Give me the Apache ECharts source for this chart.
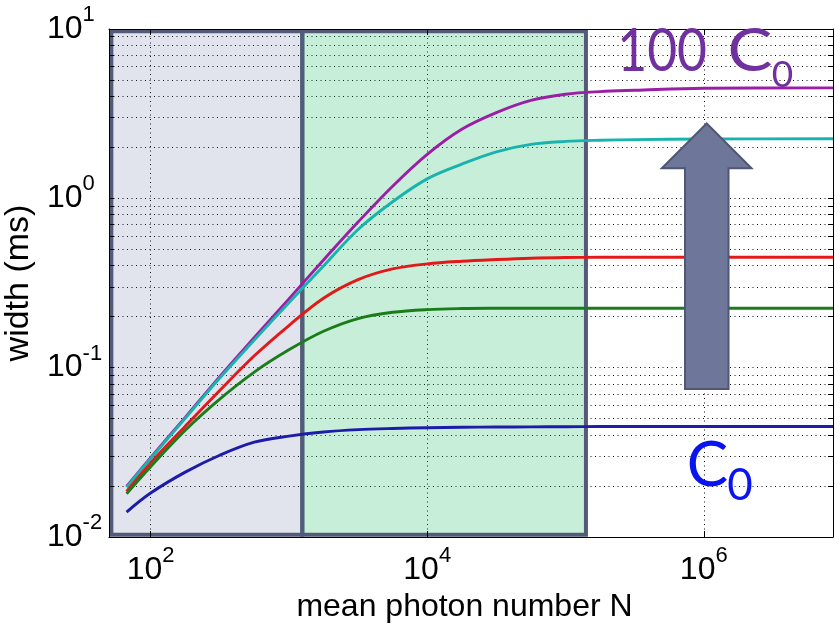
<!DOCTYPE html>
<html><head><meta charset="utf-8">
<script src="https://cdn.jsdelivr.net/npm/echarts@6/dist/echarts.min.js"></script>
<style>html,body{margin:0;padding:0;background:#fff}#c{width:835px;height:626px}</style>
</head><body><div id="c"></div>
<script>
// mean photon number N (x samples)
const photonN = [67, 100, 178, 316, 562, 1000, 1778, 3162, 5623, 10000, 17783, 31623, 56234, 100000, 177828, 316228, 1000000, 8600000];
// width (ms) for each concentration
const width100C0 = [0.0199, 0.0294, 0.0509, 0.0885, 0.1507, 0.2549, 0.4325, 0.7244, 1.18, 1.82, 2.56, 3.21, 3.79, 4.12, 4.27, 4.345, 4.47, 4.49];
const width50C0  = [0.0197, 0.0291, 0.0502, 0.0868, 0.1455, 0.242, 0.398, 0.655, 0.955, 1.303, 1.592, 1.883, 2.084, 2.168, 2.203, 2.221, 2.239, 2.247];
const width10C0  = [0.0186, 0.0274, 0.0451, 0.0734, 0.1175, 0.1774, 0.257, 0.331, 0.383, 0.410, 0.425, 0.435, 0.443, 0.447, 0.4485, 0.449, 0.449, 0.449];
const width5C0   = [0.0180, 0.0260, 0.0427, 0.0652, 0.0942, 0.1274, 0.164, 0.195, 0.2123, 0.2203, 0.2234, 0.2243, 0.2245, 0.2245, 0.2245, 0.2245, 0.2245, 0.2245];
const widthC0    = [0.01404, 0.01818, 0.02416, 0.0304, 0.0363, 0.0394, 0.0417, 0.04305, 0.04375, 0.0442, 0.04446, 0.0446, 0.0447, 0.0448, 0.0449, 0.0449, 0.0449, 0.0449];
const seriesNames = ['100 C0', '50 C0', '10 C0', '5 C0', 'C0'];
const seriesColors = ['#9b1fa6', '#19b3ad', '#e31919', '#1a7d1a', '#1c1ca8'];
// axis ticks
const xTickValues = [100, 10000, 1000000];
const yLabelValues = [0.01, 0.1, 1, 10];
const yMinorMultipliers = [1, 2, 3, 4, 5, 6, 7, 8, 9];
// shaded regimes (N ranges) and their vertical extent
const shadeRanges = [[52, 1250], [1250, 140600]];
const shadeY = [0.0103, 9.7];
const shadeFills = ['rgba(40,60,130,0.14)', 'rgba(0,176,80,0.22)'];

const yTickValues = [];
yLabelValues.slice(0, 3).forEach(d => yMinorMultipliers.forEach(m => yTickValues.push(+(d * m).toPrecision(3))));
yTickValues.push(10);

const F = 'Liberation Sans, Arial, sans-serif';
const G = 'Lato, Open Sans, sans-serif';
function powLabel(v) {
  const e = Math.round(Math.log10(v));
  return '{b|10}{s|' + (e < 0 ? '-' + (-e) : e) + '}';
}
const rich = {
  b: { fontSize: 32, fontFamily: F, color: '#000', lineHeight: 50 },
  s: { fontSize: 22, fontFamily: F, color: '#000', lineHeight: 22, verticalAlign: 'top' }
};
const gridDots = { color: '#111', width: 1, type: [1, 3.5] };

const chart = echarts.init(document.getElementById('c'), null, { renderer: 'canvas' });
const lineSeries = [width100C0, width50C0, width10C0, width5C0, widthC0].map((arr, i) => ({
  name: seriesNames[i], type: 'line', xAxisIndex: 0, yAxisIndex: 0,
  data: photonN.map((n, j) => [n, arr[j]]),
  showSymbol: false, smooth: 0.35, z: 3,
  lineStyle: { color: seriesColors[i], width: 2.9 },
  itemStyle: { color: seriesColors[i] }
}));

const option = {
  animation: false,
  backgroundColor: '#fff',
  grid: { left: 109, right: 2, top: 29, bottom: 89, containLabel: false, outerBoundsMode: 'none' },
  xAxis: [{
    type: 'log', min: 50, max: 8600000, position: 'bottom', z: 1,
    axisLine: { show: true, lineStyle: { color: '#000', width: 1 } },
    axisTick: { show: true, inside: true, length: 6, customValues: xTickValues, lineStyle: { color: '#000' } },
    axisLabel: { customValues: xTickValues, formatter: powLabel, rich: rich, margin: 8 },
    splitLine: { show: true, lineStyle: gridDots },
    minorTick: { show: false }, minorSplitLine: { show: false },
    name: 'mean photon number N', nameLocation: 'middle', nameGap: 48,
    nameTextStyle: { fontSize: 32, fontFamily: F, color: '#000', padding: [0, 13, 0, 0] }
  }, {
    type: 'log', min: 50, max: 8600000, position: 'top', z: 1,
    axisLine: { show: true, lineStyle: { color: '#000', width: 1 } },
    axisTick: { show: true, inside: true, length: 6, customValues: xTickValues, lineStyle: { color: '#000' } },
    axisLabel: { show: false }, splitLine: { show: false }
  }],
  yAxis: [{
    type: 'log', min: 0.01, max: 10, position: 'left', z: 1,
    axisLine: { show: true, lineStyle: { color: '#000', width: 1 } },
    axisTick: { show: true, inside: true, length: 5, customValues: yTickValues, lineStyle: { color: '#000' } },
    axisLabel: { customValues: yLabelValues, formatter: powLabel, rich: rich, align: 'left', margin: 62 },
    splitLine: { show: true, lineStyle: gridDots },
    name: 'width (ms)', nameLocation: 'middle', nameGap: 70, nameRotate: 90,
    nameTextStyle: { fontSize: 34, fontFamily: F, color: '#000' }
  }, {
    type: 'log', min: 0.01, max: 10, position: 'right', z: 1,
    axisLine: { show: true, lineStyle: { color: '#000', width: 1 } },
    axisTick: { show: true, inside: true, length: 5, customValues: yTickValues, lineStyle: { color: '#000' } },
    axisLabel: { show: false }, splitLine: { show: false }
  }],
  series: lineSeries.concat([{
    name: 'regimes', type: 'line', data: [], z: 5, silent: true,
    markArea: {
      silent: true,
      data: shadeRanges.map((r, i) => [
        { xAxis: r[0], yAxis: shadeY[0], itemStyle: { color: shadeFills[i], borderColor: '#535b79', borderWidth: 4 } },
        { xAxis: r[1], yAxis: shadeY[1] }
      ])
    }
  }]),
  graphic: [
    { type: 'polygon', z: 100, shape: { points: [[706.7, 123.5], [751.5, 168.3], [728.5, 168.3], [728.5, 389], [685, 389], [685, 168.3], [661.8, 168.3]] },
      style: { fill: '#6e7799', stroke: '#4f5775', lineWidth: 2 } },
    { type: 'text', z: 100, x: 707, y: 52, scaleX: 0.86, style: { text: '100', fontSize: 60, fontFamily: G, fill: '#7030a0', align: 'right', verticalAlign: 'middle' } },
    { type: 'text', z: 100, x: 750, y: 52, scaleX: 1.12, style: { text: 'C', fontSize: 60, fontFamily: G, fill: '#7030a0', align: 'center', verticalAlign: 'middle' } },
    { type: 'text', z: 100, x: 782.5, y: 75, style: { text: '0', fontSize: 37, fontFamily: G, fill: '#7030a0', align: 'center', verticalAlign: 'middle' } },
    { type: 'text', z: 100, x: 707.5, y: 466, style: { text: 'C', fontSize: 62, fontFamily: G, fill: '#0a14f0', align: 'center', verticalAlign: 'middle' } },
    { type: 'text', z: 100, x: 740, y: 486, style: { text: '0', fontSize: 44, fontFamily: G, fill: '#0a14f0', align: 'center', verticalAlign: 'middle' } }
  ]
};
chart.setOption(option);
</script></body></html>
